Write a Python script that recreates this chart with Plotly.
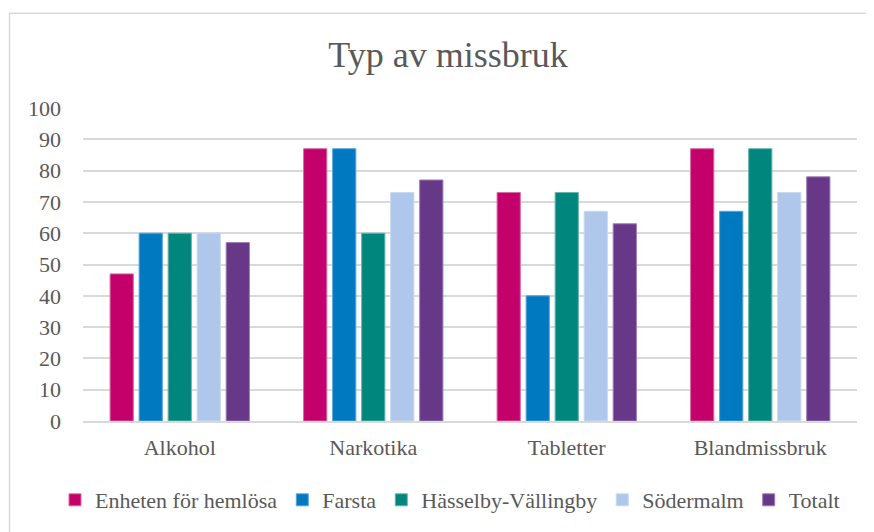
import plotly.graph_objects as go

categories = ["Alkohol", "Narkotika", "Tabletter", "Blandmissbruk"]
series_names = ["Enheten för hemlösa", "Farsta", "Hässelby-Vällingby", "Södermalm", "Totalt"]
enheten = [47, 87, 73, 87]
farsta = [60, 87, 40, 67]
hasselby = [60, 60, 73, 87]
sodermalm = [60, 73, 67, 73]
totalt = [57, 77, 63, 78]
y_ticks = [0, 10, 20, 30, 40, 50, 60, 70, 80, 90, 100]

values = [enheten, farsta, hasselby, sodermalm, totalt]
colors = ["#C4006A", "#0079C1", "#00867C", "#AEC7EA", "#673888"]
edges = ["#D86AA6", "#5AA6D8", "#66B5AE", "#C8DAF1", "#9E7BB6"]

FONT = "Liberation Serif, Times New Roman, serif"
GREY = "#595959"

fig = go.Figure()
for name, vals, c, e in zip(series_names, values, colors, edges):
    fig.add_trace(go.Bar(
        name=name, x=categories, y=vals,
        marker=dict(color=c, line=dict(color=e, width=1)),
    ))

# page offset from default body margin
OFF = 8
W, H = 874 - OFF, 532 - OFF
# plot area in screenshot pixels
PL, PR, PT, PB = 83, 857, 108, 422
L, R, T, B = PL - OFF, 874 - PR, PT - OFF, 532 - PB
pw, ph = PR - PL, PB - PT

def px_x(p):
    return (p - PL) / pw

def px_y(p):
    return (PB - p) / ph

fig.update_layout(
    width=W, height=H,
    margin=dict(l=L, r=R, t=T, b=B, pad=0),
    paper_bgcolor="white", plot_bgcolor="white",
    barmode="group", bargap=0.25, bargroupgap=0.2,
    font=dict(family=FONT, color=GREY, size=22),
    title=dict(text="Typ av missbruk", x=(448 - OFF) / W, xanchor="center",
               y=1 - (54 - OFF) / H, yanchor="middle",
               font=dict(family=FONT, size=36, color=GREY)),
    showlegend=True,
    legend=dict(orientation="h", x=px_x(55), xanchor="left",
                y=px_y(500), yanchor="middle",
                font=dict(family=FONT, size=22, color=GREY),
                itemwidth=30, tracegroupgap=0, traceorder="normal"),
    xaxis=dict(showgrid=False, showline=True, linecolor="#D9D9D9", linewidth=1.5,
               ticks="", tickfont=dict(family=FONT, size=22, color=GREY),
               ticklabelstandoff=6),
    yaxis=dict(range=[0, 100], tickvals=y_ticks, showgrid=True,
               gridcolor="#D9D9D9", gridwidth=1.5, zeroline=False,
               showline=False, ticks="",
               tickfont=dict(family=FONT, size=22, color=GREY),
               ticklabelstandoff=21),
    shapes=[dict(type="rect", xref="paper", yref="paper",
                 x0=px_x(9.5), x1=px_x(873), y0=px_y(545), y1=px_y(13),
                 line=dict(color="#D9D9D9", width=1.5), layer="below")],
)

fig.write_html("out.html")
